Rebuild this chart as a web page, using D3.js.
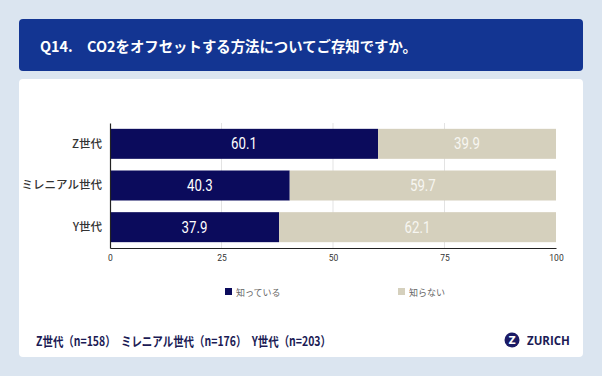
<!DOCTYPE html>
<html>
<head>
<meta charset="utf-8">
<script src="https://cdn.jsdelivr.net/npm/d3@7"></script>
<style>
  body { margin: 0; background: #dbe5f0; }
  svg { display: block; }
</style>
</head>
<body>
<div class="canvas"></div>
<script>
// data
const categories = ['Z世代', 'ミレニアル世代', 'Y世代']
const knows = [60.1, 40.3, 37.9]
const notKnows = [39.9, 59.7, 62.1]
const seriesNames = ['知っている', '知らない']
const xTicks = [0, 25, 50, 75, 100]
const title = 'Q14.　CO2をオフセットする方法についてご存知ですか。'
const sampleNote = 'Z世代（n=158）　ミレニアル世代（n=176）　Y世代（n=203）'

const colors = ['#0b0b5c', '#d5d0bd']
const jp = '"Noto Sans CJK JP", "Noto Sans", sans-serif'
const narrow = '"Roboto", "Liberation Sans", sans-serif'

const width = 602, height = 376

const svg = d3.select('.canvas')
    .append('svg')
    .attr('width', width)
    .attr('height', height)

svg.append('rect').attr('width', width).attr('height', height).attr('fill', '#dbe5f0')

// header
svg.append('rect')
    .attr('x', 19).attr('y', 19).attr('width', 564).attr('height', 52)
    .attr('rx', 4).attr('fill', '#133592')

svg.append('text')
    .attr('x', 40).attr('y', 45)
    .attr('dominant-baseline', 'central')
    .attr('fill', '#fff')
    .attr('font-family', jp)
    .attr('font-weight', 700)
    .attr('font-size', 14.5)
    .attr('textLength', 377)
    .attr('lengthAdjust', 'spacingAndGlyphs')
    .text(title)

// white panel
svg.append('rect')
    .attr('x', 19).attr('y', 79).attr('width', 564).attr('height', 278)
    .attr('rx', 4).attr('fill', '#fff')

const margin = {top: 123, left: 110}
const graphWidth = 446, graphHeight = 125

const graph = svg.append('g')
    .attr('transform', `translate(${margin.left}, ${margin.top})`)

const x = d3.scaleLinear().domain([0, 100]).range([0, graphWidth])
const y = d3.scaleBand()
    .domain(categories)
    .range([0, graphHeight])
    .paddingInner(0.28)
    .paddingOuter(0.14)

// grid
graph.selectAll('.grid')
    .data(xTicks.slice(1, -1))
    .enter().append('line')
    .attr('x1', d => x(d)).attr('x2', d => x(d))
    .attr('y1', 0).attr('y2', graphHeight)
    .attr('stroke', '#e3e3e3')

const stacked = categories.map((c, i) => ({cat: c, vals: [knows[i], notKnows[i]]}))

stacked.forEach(row => {
    let start = 0
    row.vals.forEach((v, j) => {
        graph.append('rect')
            .attr('x', x(start))
            .attr('y', y(row.cat))
            .attr('width', x(start + v) - x(start))
            .attr('height', y.bandwidth())
            .attr('fill', colors[j])
        // condensed label
        const cx = x(start + v / 2), cy = y(row.cat) + y.bandwidth() / 2
        graph.append('text')
            .attr('transform', `translate(${cx}, ${cy}) scale(0.78, 1)`)
            .attr('text-anchor', 'middle')
            .attr('dominant-baseline', 'central')
            .attr('fill', j === 0 ? '#fff' : '#f7f6f1')
            .attr('font-family', narrow)
            .attr('font-weight', 400)
            .attr('font-size', 17)
            .text(v.toFixed(1))
        start += v
    })
})

// axes
const xAxis = d3.axisBottom(x).tickValues(xTicks).tickSize(0).tickPadding(7)
const xAxisGroup = graph.append('g')
    .attr('transform', `translate(0, ${graphHeight})`)
    .call(xAxis)
xAxisGroup.select('.domain').attr('stroke', '#222').attr('stroke-width', 1.2)
xAxisGroup.selectAll('text')
    .attr('font-family', narrow)
    .attr('font-size', 8.5)
    .attr('fill', '#333')

const yAxis = d3.axisLeft(y).tickSize(0).tickPadding(8)
const yAxisGroup = graph.append('g').call(yAxis)
yAxisGroup.select('.domain').attr('stroke', '#222').attr('stroke-width', 1.2)
yAxisGroup.selectAll('text')
    .attr('font-family', jp)
    .attr('font-weight', 500)
    .attr('font-size', 11.5)
    .attr('fill', '#333')

// legend
const legendX = [225, 398]
seriesNames.forEach((name, i) => {
    svg.append('rect')
        .attr('x', legendX[i]).attr('y', 288)
        .attr('width', 7).attr('height', 7)
        .attr('fill', colors[i])
    svg.append('text')
        .attr('x', legendX[i] + 11).attr('y', 292)
        .attr('dominant-baseline', 'central')
        .attr('font-family', jp)
        .attr('font-size', 9)
        .attr('fill', '#666')
        .text(name)
})

// footer
svg.append('text')
    .attr('x', 36).attr('y', 340)
    .attr('dominant-baseline', 'central')
    .attr('font-family', jp)
    .attr('font-weight', 700)
    .attr('font-size', 13)
    .attr('fill', '#1b1b55')
    .attr('textLength', 295)
    .attr('lengthAdjust', 'spacingAndGlyphs')
    .text(sampleNote)

// logo
const logo = svg.append('g').attr('transform', 'translate(512, 340)')
logo.append('circle').attr('r', 7.5).attr('fill', '#1b1b66')
logo.append('text')
    .attr('text-anchor', 'middle')
    .attr('dominant-baseline', 'central')
    .attr('font-family', '"DejaVu Sans", sans-serif')
    .attr('font-weight', 700)
    .attr('font-size', 10)
    .attr('fill', '#fff')
    .text('Z')
svg.append('text')
    .attr('x', 527).attr('y', 340)
    .attr('dominant-baseline', 'central')
    .attr('font-family', '"Open Sans", sans-serif')
    .attr('font-weight', 700)
    .attr('font-size', 11.5)
    .attr('fill', '#1b1b55')
    .text('ZURICH')
</script>
</body>
</html>
